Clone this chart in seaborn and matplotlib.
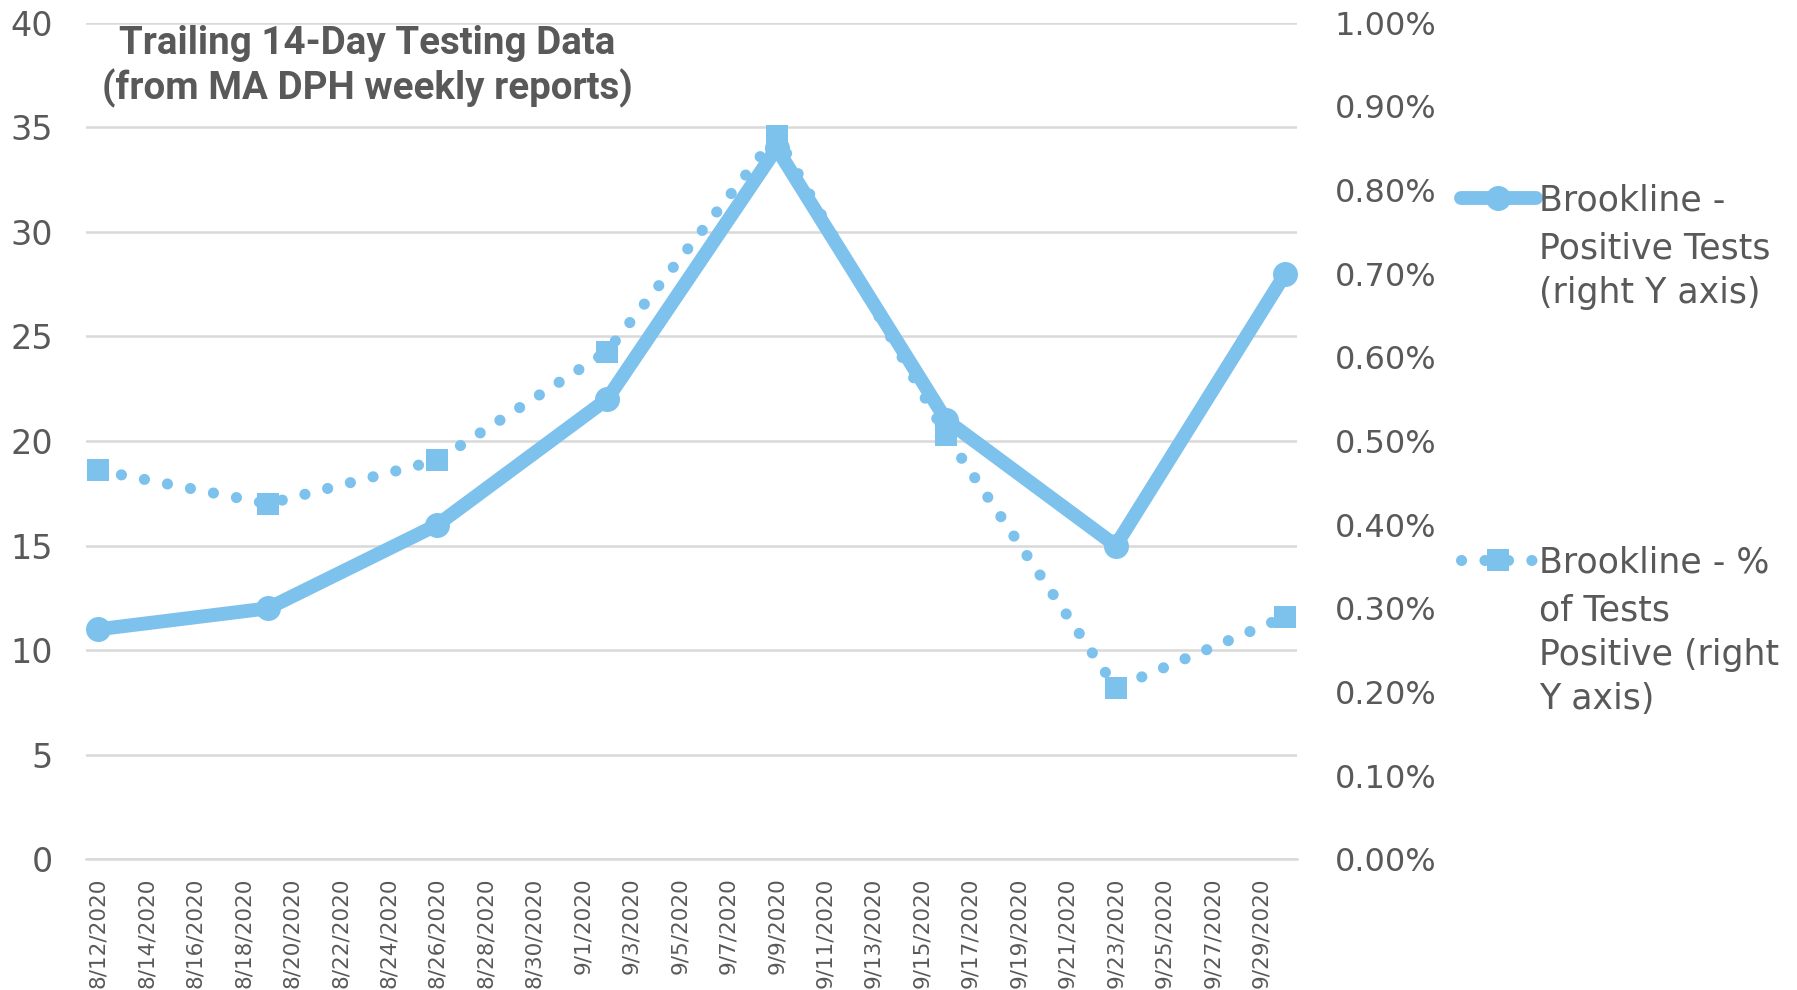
import pandas as pd
import seaborn as sns
import matplotlib.pyplot as plt
import matplotlib.dates as mdates
from matplotlib.ticker import FuncFormatter, MultipleLocator

# weekly report dates and values
dates = ['2020-08-12', '2020-08-19', '2020-08-26', '2020-09-02',
         '2020-09-09', '2020-09-16', '2020-09-23', '2020-09-30']
positive_tests = [11, 12, 16, 22, 34, 21, 15, 28]
pct_positive = [0.465, 0.425, 0.477, 0.607, 0.865, 0.507, 0.205, 0.29]

label_pos = 'Brookline -\nPositive Tests\n(right Y axis)'
label_pct = 'Brookline - %\nof Tests\nPositive (right\nY axis)'
title = 'Trailing 14-Day Testing Data\n(from MA DPH weekly reports)'

BLUE = '#7DC1ED'
GREY = '#595959'
GRID = '#D9D9D9'

df = pd.DataFrame({'date': pd.to_datetime(dates),
                   'positive': positive_tests,
                   'pct': pct_positive})

sns.set_style('white')
plt.rcParams['font.family'] = ['DejaVu Sans']

fig = plt.figure(figsize=(17.97, 9.9), dpi=100)
ax = fig.add_axes([0.048, 0.132, 0.674, 0.845])
ax2 = ax.twinx()

sns.lineplot(data=df, x='date', y='positive', ax=ax, color=BLUE, lw=10,
             marker='o', markersize=18, markeredgewidth=0,
             solid_capstyle='round', label=label_pos, legend=False)
sns.lineplot(data=df, x='date', y='pct', ax=ax2, color=BLUE, lw=8,
             linestyle=(0, (0.01, 2.1)), dash_capstyle='round',
             marker='s', markersize=16, markeredgewidth=0,
             label=label_pct, legend=False)

# axes ranges
ax.set_xlim(pd.Timestamp('2020-08-11 12:00'), pd.Timestamp('2020-09-30 12:00'))
ax.set_ylim(0, 40)
ax2.set_ylim(0, 1.0)
ax.yaxis.set_major_locator(MultipleLocator(5))
ax2.yaxis.set_major_locator(MultipleLocator(0.1))
ax2.yaxis.set_major_formatter(FuncFormatter(lambda v, p: f'{v:.2f}%'))

ax.set_xticks(pd.date_range('2020-08-12', '2020-09-29', freq='2D'))
ax.xaxis.set_major_formatter(mdates.DateFormatter('%-m/%-d/%Y'))
ax.tick_params(axis='x', rotation=90, labelsize=15.5, colors=GREY,
               length=0, pad=13)
ax.tick_params(axis='y', labelsize=24, colors=GREY, length=0, pad=24)
ax2.tick_params(axis='y', labelsize=23, colors=GREY, length=0, pad=27)

ax.set_xlabel('')
ax.set_ylabel('')
ax2.set_ylabel('')

ax.grid(axis='y', color=GRID, lw=1.8)
ax.grid(axis='x', visible=False)
ax2.grid(False)
for a in (ax, ax2):
    for s in a.spines.values():
        s.set_visible(False)
ax.spines['bottom'].set_visible(True)
ax.spines['bottom'].set_color(GRID)
ax.spines['bottom'].set_linewidth(1.8)

ax.text(0.232, 0.997, title, transform=ax.transAxes, ha='center', va='top',
        fontsize=27.7, fontweight='bold', color=GREY, linespacing=1.2,
        family=['Roboto', 'DejaVu Sans'])

# legend: handle aligned with the first line of each label
h1, _ = ax.get_legend_handles_labels()
h2, _ = ax2.get_legend_handles_labels()
labels = [label_pos, label_pct]
first_lines = [l.split('\n', 1)[0] for l in labels]
rests = [l.split('\n', 1)[1] for l in labels]
leg = ax2.legend(h1 + h2, first_lines, loc='upper left',
                 bbox_to_anchor=(0.813, 0.815), bbox_transform=fig.transFigure,
                 frameon=False, fontsize=25, handlelength=2.15,
                 handletextpad=0.1, labelspacing=9.45, borderpad=0,
                 borderaxespad=0, numpoints=1)
for t, rest in zip(leg.get_texts(), rests):
    t.set_color(GREY)
    ax2.annotate(rest, xy=(0, 0), xycoords=t, xytext=(0, -10),
                 textcoords='offset points', ha='left', va='top',
                 fontsize=25, color=GREY, linespacing=1.39, zorder=10,
                 annotation_clip=False)

fig.savefig('out.png', dpi=100)
